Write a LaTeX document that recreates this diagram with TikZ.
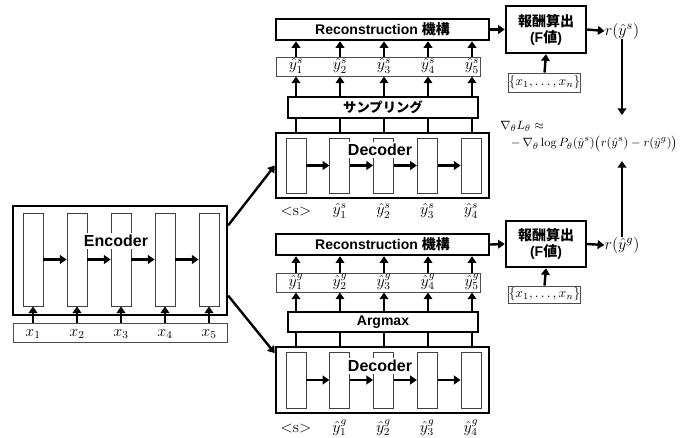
\documentclass[tikz,border=0pt]{standalone}
\usepackage[no-math]{fontspec}
\setmainfont{Liberation Sans}
\newfontfamily\jp{Noto Sans CJK JP}
\usetikzlibrary{arrows.meta}
\newcommand\mybox[7]{\node[#6, minimum width={((#4)-(#2))*0.75pt}, minimum height={((#5)-(#3))*0.75pt}, inner sep=0pt] (#1) at ({((#2)+(#4))/2},{((#3)+(#5))/2}) {#7};}
\begin{document}
\begin{tikzpicture}[x=0.75pt,y=-0.75pt,
  every node/.style={font=\fontsize{12}{14}\selectfont},
  outer/.style={draw, line width=1.8pt, fill=white},
  midbox/.style={draw, line width=1.5pt, fill=white},
  cell/.style={draw=black!75, line width=0.6pt, fill=white},
  strip/.style={draw=black!70, line width=0.7pt, fill=white},
  arr/.style={-{Triangle[length=5pt,width=6.5pt]}, line width=1.8pt},
  bar/.style={line width=1.8pt},
  lbl/.style={font=\bfseries\fontsize{12}{14}\selectfont, fill=white, inner sep=1.5pt},
  btxt/.style={font=\bfseries\fontsize{10.5}{12}\selectfont},
  rtxt/.style={font=\fontsize{13}{15}\selectfont, inner sep=0pt},
  stxt/.style={font=\fontsize{10}{12}\selectfont},
]
\useasboundingbox (0,0) rectangle (692,437);

% ---------------- Encoder ----------------
\mybox{enc}{13}{206}{227}{315}{outer}{}
\mybox{xs}{13}{323}{227}{342}{strip}{}
\foreach \i in {1,...,5}{
  \pgfmathsetmacro\cx{33+44*(\i-1)}
  \mybox{e\i}{\cx-10}{213}{\cx+10}{306}{cell}{}
  \node[inner sep=0pt] (x\i) at (\cx,334) {$x_{\i}$};
  \draw[arr] (x\i |- xs.north) -- (e\i.south);
}
\foreach \i/\j in {1/2,2/3,3/4,4/5}{\draw[arr] (e\i.east) -- (e\j.west);}
\node[lbl] (enclbl) at (116,241) {Encoder};

% ---------------- Upper (sampling) branch ----------------
\mybox{dec1}{276}{133}{489}{198}{outer}{}
\foreach \i in {1,...,5}{
  \pgfmathsetmacro\cx{296+43.75*(\i-1)}
  \mybox{d\i}{\cx-10}{138}{\cx+10}{193}{cell}{}
}
\foreach \i/\j in {1/2,2/3,3/4,4/5}{\draw[arr] (d\i.east) -- (d\j.west);}
\node[lbl] (dec1lbl) at (380,150) {Decoder};
\node[inner sep=0pt] (o0) at (296,211) {$\mathord{<}\mathrm{s}\mathord{>}$};
\node[inner sep=0pt] (o1) at (339.75,211) {$\hat{y}^{s}_{1}$};
\node[inner sep=0pt] (o2) at (383.5,211) {$\hat{y}^{s}_{2}$};
\node[inner sep=0pt] (o3) at (427.25,211) {$\hat{y}^{s}_{3}$};
\node[inner sep=0pt] (o4) at (471,211) {$\hat{y}^{s}_{4}$};

\mybox{samp}{288}{97}{478}{118}{midbox}{{\jp\bfseries\fontsize{10}{12}\selectfont サンプリング}}
\mybox{ys}{276}{57}{480}{76}{strip}{}
\mybox{rec1}{276}{19}{489}{40}{outer,btxt}{Reconstruction {\jp 機構}}
\foreach \i in {1,...,5}{
  \pgfmathsetmacro\cx{296+44*(\i-1)}
  \node[inner sep=0pt] (s\i) at (\cx,66) {$\hat{y}^{s}_{\i}$};
  \draw[bar] (s\i |- samp.south) -- (s\i |- dec1.north);
  \draw[arr] (s\i |- samp.north) -- (s\i |- ys.south);
  \draw[arr] (s\i |- ys.north) -- (s\i |- rec1.south);
}
\mybox{rw1}{506}{6}{586}{53}{outer,align=center,btxt}{{\jp 報酬算出}\\(F{\jp 値})}
\mybox{set1}{511}{73}{578}{92}{strip,stxt}{$\{x_1,\dots,x_n\}$}
\draw[arr] (rec1.east) -- (rw1.west);
\draw[arr] (set1.north) -- (rw1.south);
\node[rtxt] (r1) at (622,31) {$r(\hat{y}^{s})$};
\draw[arr] (rw1.east) -- (r1.west);

% ---------------- Gradient formula ----------------
\node[anchor=north west, align=left, inner sep=0pt, font=\fontsize{9.5}{13}\selectfont] (grad) at (500,121)
  {$\nabla_{\theta}L_{\theta}\approx$\\\hspace*{8pt}$-\,\nabla_{\theta}\log P_{\theta}(\hat{y}^{s})\bigl(r(\hat{y}^{s})-r(\hat{y}^{g})\bigr)$};
\draw[arr] (r1.south) -- (r1.south |- 0,115) coordinate (gtop);

% ---------------- Lower (argmax) branch ----------------
\mybox{dec2}{276}{347}{489}{413}{outer}{}
\foreach \i in {1,...,5}{
  \pgfmathsetmacro\cx{296+43.75*(\i-1)}
  \mybox{g\i}{\cx-10}{352}{\cx+10}{408}{cell}{}
}
\foreach \i/\j in {1/2,2/3,3/4,4/5}{\draw[arr] (g\i.east) -- (g\j.west);}
\node[lbl] (dec2lbl) at (380,366) {Decoder};
\node[inner sep=0pt] (q0) at (296,428) {$\mathord{<}\mathrm{s}\mathord{>}$};
\node[inner sep=0pt] (q1) at (339.75,428) {$\hat{y}^{g}_{1}$};
\node[inner sep=0pt] (q2) at (383.5,428) {$\hat{y}^{g}_{2}$};
\node[inner sep=0pt] (q3) at (427.25,428) {$\hat{y}^{g}_{3}$};
\node[inner sep=0pt] (q4) at (471,428) {$\hat{y}^{g}_{4}$};

\mybox{amax}{288}{312}{478}{332}{midbox,btxt}{Argmax}
\mybox{yg}{276}{273}{480}{292}{strip}{}
\mybox{rec2}{276}{234}{489}{255}{outer,btxt}{Reconstruction {\jp 機構}}
\foreach \i in {1,...,5}{
  \pgfmathsetmacro\cx{296+44*(\i-1)}
  \node[inner sep=0pt] (t\i) at (\cx,282) {$\hat{y}^{g}_{\i}$};
  \draw[bar] (t\i |- amax.south) -- (t\i |- dec2.north);
  \draw[arr] (t\i |- amax.north) -- (t\i |- yg.south);
  \draw[arr] (t\i |- yg.north) -- (t\i |- rec2.south);
}
\mybox{rw2}{506}{221}{586}{267}{outer,align=center,btxt}{{\jp 報酬算出}\\(F{\jp 値})}
\mybox{set2}{511}{286}{578}{303}{strip,stxt}{$\{x_1,\dots,x_n\}$}
\draw[arr] (rec2.east) -- (rw2.west);
\draw[arr] (set2.north) -- (rw2.south);
\node[rtxt] (r2) at (622,245) {$r(\hat{y}^{g})$};
\draw[arr] (rw2.east) -- (r2.west);
\draw[arr] (r2.north) -- (r2.north |- 0,161);

% ---------------- Encoder to decoders ----------------
\draw[arr] (enc.18) -- (dec1.west);
\draw[arr] (enc.-18) -- (dec2.166);
\end{tikzpicture}
\end{document}
